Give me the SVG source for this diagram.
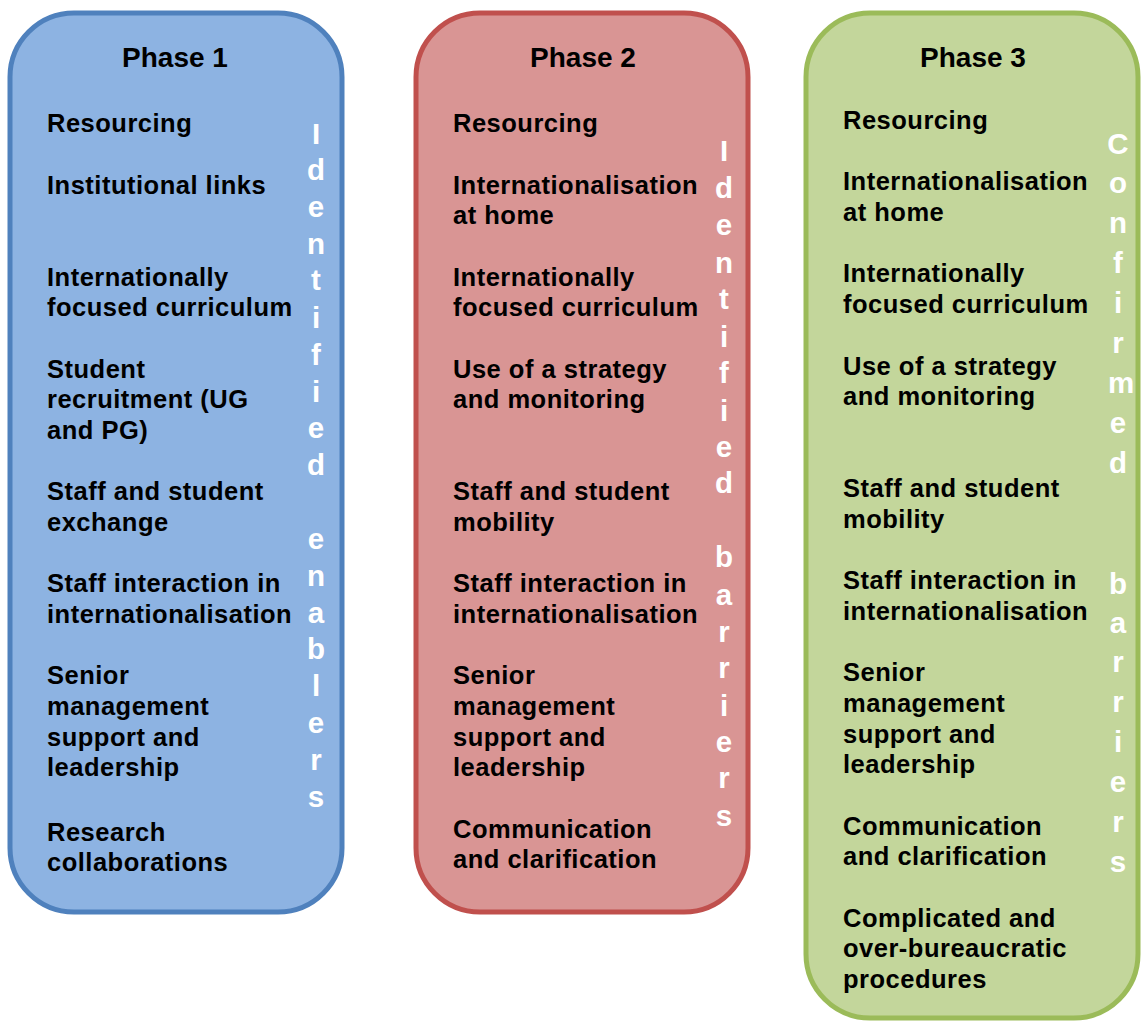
<svg xmlns="http://www.w3.org/2000/svg" width="1141" height="1023" viewBox="0 0 1141 1023">
<style>
.box{stroke-width:5}
.b1{fill:#8DB3E2;stroke:#4F81BD}
.b2{fill:#D99594;stroke:#C0504D}
.b3{fill:#C3D69B;stroke:#9BBB59}
text{font-family:"Liberation Sans",Arial,sans-serif;font-weight:bold;font-size:25.5px;letter-spacing:0.5px}
.t{fill:#000}
.h{text-anchor:middle;font-size:28px;letter-spacing:0}
.v{fill:#fff;text-anchor:middle;font-size:29.5px;letter-spacing:0}
</style>
<rect width="1141" height="1023" fill="#fff"/>
<g id="phase1">
<rect class="box b1" x="10" y="13" width="332" height="899" rx="64"/>
<text class="t h" x="175" y="67">Phase 1</text>
<text class="t" x="47" y="132">Resourcing</text>
<text class="t" x="47" y="194">Institutional links</text>
<text class="t" x="47" y="286">Internationally</text>
<text class="t" x="47" y="316">focused curriculum</text>
<text class="t" x="47" y="378">Student</text>
<text class="t" x="47" y="408">recruitment (UG</text>
<text class="t" x="47" y="439">and PG)</text>
<text class="t" x="47" y="500">Staff and student</text>
<text class="t" x="47" y="531">exchange</text>
<text class="t" x="47" y="592">Staff interaction in</text>
<text class="t" x="47" y="623">internationalisation</text>
<text class="t" x="47" y="684">Senior</text>
<text class="t" x="47" y="715">management</text>
<text class="t" x="47" y="746">support and</text>
<text class="t" x="47" y="776">leadership</text>
<text class="t" x="47" y="841">Research</text>
<text class="t" x="47" y="871">collaborations</text>
<text class="v" x="316" y="144">I</text>
<text class="v" x="316" y="180">d</text>
<text class="v" x="316" y="217">e</text>
<text class="v" x="316" y="254">n</text>
<text class="v" x="316" y="290">t</text>
<text class="v" x="316" y="328">i</text>
<text class="v" x="316" y="365">f</text>
<text class="v" x="316" y="402">i</text>
<text class="v" x="316" y="438">e</text>
<text class="v" x="316" y="475">d</text>
<text class="v" x="316" y="549">e</text>
<text class="v" x="316" y="586">n</text>
<text class="v" x="316" y="623">a</text>
<text class="v" x="316" y="659">b</text>
<text class="v" x="316" y="696">l</text>
<text class="v" x="316" y="733">e</text>
<text class="v" x="316" y="770">r</text>
<text class="v" x="316" y="807">s</text>
</g>
<g id="phase2">
<rect class="box b2" x="416" y="13" width="332" height="899" rx="64"/>
<text class="t h" x="583" y="67">Phase 2</text>
<text class="t" x="453" y="132">Resourcing</text>
<text class="t" x="453" y="194">Internationalisation</text>
<text class="t" x="453" y="224">at home</text>
<text class="t" x="453" y="286">Internationally</text>
<text class="t" x="453" y="316">focused curriculum</text>
<text class="t" x="453" y="378">Use of a strategy</text>
<text class="t" x="453" y="408">and monitoring</text>
<text class="t" x="453" y="500">Staff and student</text>
<text class="t" x="453" y="531">mobility</text>
<text class="t" x="453" y="592">Staff interaction in</text>
<text class="t" x="453" y="623">internationalisation</text>
<text class="t" x="453" y="684">Senior</text>
<text class="t" x="453" y="715">management</text>
<text class="t" x="453" y="746">support and</text>
<text class="t" x="453" y="776">leadership</text>
<text class="t" x="453" y="838">Communication</text>
<text class="t" x="453" y="868">and clarification</text>
<text class="v" x="724" y="161">I</text>
<text class="v" x="724" y="198">d</text>
<text class="v" x="724" y="235">e</text>
<text class="v" x="724" y="273">n</text>
<text class="v" x="724" y="309">t</text>
<text class="v" x="724" y="347">i</text>
<text class="v" x="724" y="383">f</text>
<text class="v" x="724" y="421">i</text>
<text class="v" x="724" y="457">e</text>
<text class="v" x="724" y="493">d</text>
<text class="v" x="724" y="567">b</text>
<text class="v" x="724" y="605">a</text>
<text class="v" x="724" y="642">r</text>
<text class="v" x="724" y="678">r</text>
<text class="v" x="724" y="716">i</text>
<text class="v" x="724" y="752">e</text>
<text class="v" x="724" y="788">r</text>
<text class="v" x="724" y="826">s</text>
</g>
<g id="phase3">
<rect class="box b3" x="806" y="13" width="332" height="1005" rx="64"/>
<text class="t h" x="973" y="67">Phase 3</text>
<text class="t" x="843" y="129">Resourcing</text>
<text class="t" x="843" y="190">Internationalisation</text>
<text class="t" x="843" y="221">at home</text>
<text class="t" x="843" y="282">Internationally</text>
<text class="t" x="843" y="313">focused curriculum</text>
<text class="t" x="843" y="375">Use of a strategy</text>
<text class="t" x="843" y="405">and monitoring</text>
<text class="t" x="843" y="497">Staff and student</text>
<text class="t" x="843" y="528">mobility</text>
<text class="t" x="843" y="589">Staff interaction in</text>
<text class="t" x="843" y="620">internationalisation</text>
<text class="t" x="843" y="681">Senior</text>
<text class="t" x="843" y="712">management</text>
<text class="t" x="843" y="743">support and</text>
<text class="t" x="843" y="773">leadership</text>
<text class="t" x="843" y="835">Communication</text>
<text class="t" x="843" y="865">and clarification</text>
<text class="t" x="843" y="927">Complicated and</text>
<text class="t" x="843" y="957">over-bureaucratic</text>
<text class="t" x="843" y="988">procedures</text>
<text class="v" x="1118" y="154">C</text>
<text class="v" x="1118" y="193">o</text>
<text class="v" x="1118" y="233">n</text>
<text class="v" x="1118" y="273">f</text>
<text class="v" x="1118" y="313">i</text>
<text class="v" x="1118" y="353">r</text>
<text class="v" x="1121" y="393">m</text>
<text class="v" x="1118" y="433">e</text>
<text class="v" x="1118" y="473">d</text>
<text class="v" x="1118" y="594">b</text>
<text class="v" x="1118" y="633">a</text>
<text class="v" x="1118" y="672">r</text>
<text class="v" x="1118" y="712">r</text>
<text class="v" x="1118" y="752">i</text>
<text class="v" x="1118" y="792">e</text>
<text class="v" x="1118" y="832">r</text>
<text class="v" x="1118" y="872">s</text>
</g>
<g id="connectors"/>
</svg>
